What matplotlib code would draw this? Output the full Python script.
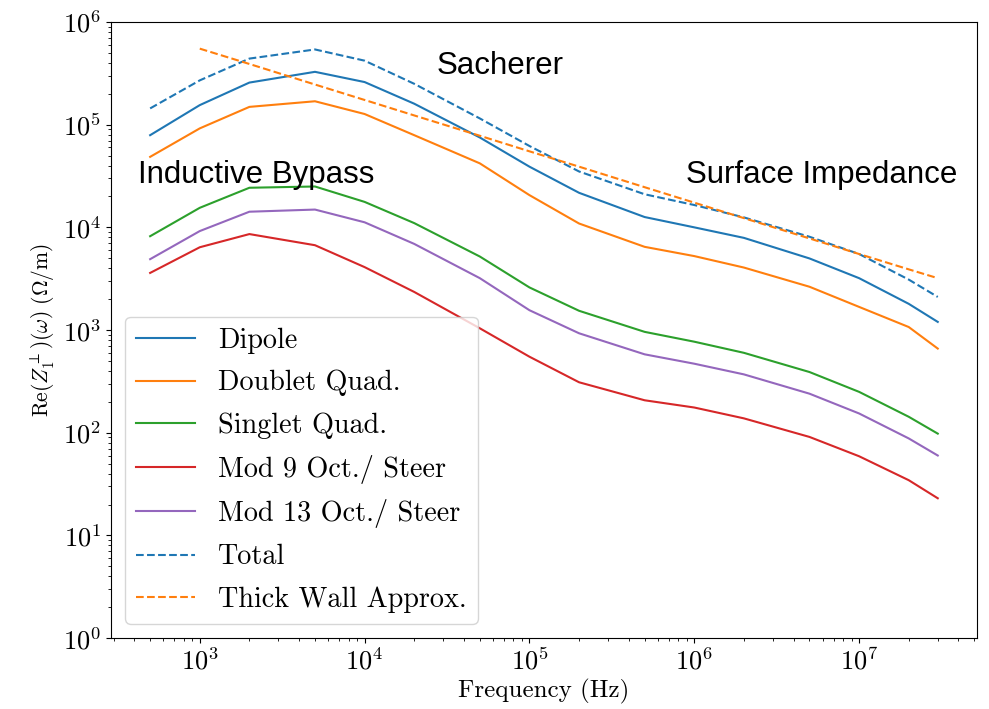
import numpy as np
import matplotlib
matplotlib.use("Agg")
import matplotlib.pyplot as plt

plt.rcParams['font.family'] = 'serif'
plt.rcParams['font.serif'] = ['cmr10']
plt.rcParams['mathtext.fontset'] = 'cm'
plt.rcParams['axes.formatter.use_mathtext'] = True

freq = [5e2, 1e3, 2e3, 5e3, 1e4, 2e4, 5e4, 1e5, 2e5, 5e5, 1e6, 2e6, 5e6, 1e7, 2e7, 3e7]

dipole = [7.9e4, 1.55e5, 2.57e5, 3.27e5, 2.6e5, 1.6e5, 7.5e4, 3.9e4, 2.17e4, 1.26e4,
          1.0e4, 7.9e3, 4.98e3, 3.2e3, 1.8e3, 1.2e3]
doublet_quad = [4.86e4, 9.2e4, 1.49e5, 1.69e5, 1.27e5, 7.9e4, 4.2e4, 2.06e4, 1.09e4, 6.46e3,
                5.25e3, 4.06e3, 2.64e3, 1.68e3, 1.07e3, 6.6e2]
singlet_quad = [8.2e3, 1.55e4, 2.43e4, 2.5e4, 1.77e4, 1.1e4, 5.2e3, 2.6e3, 1.54e3, 9.6e2,
                7.7e2, 6.0e2, 3.9e2, 2.5e2, 1.43e2, 98]
oct9 = [3.6e3, 6.4e3, 8.6e3, 6.7e3, 4.1e3, 2.35e3, 1.04e3, 5.5e2, 3.1e2, 2.07e2,
        1.76e2, 1.38e2, 91, 59, 34.5, 23]
oct13 = [4.9e3, 9.2e3, 1.42e4, 1.49e4, 1.12e4, 6.9e3, 3.2e3, 1.56e3, 9.3e2, 5.8e2,
         4.7e2, 3.7e2, 2.4e2, 1.54e2, 88, 60]
total = [1.44e5, 2.7e5, 4.4e5, 5.4e5, 4.2e5, 2.5e5, 1.15e5, 6.2e4, 3.5e4, 2.1e4,
         1.65e4, 1.25e4, 8.1e3, 5.5e3, 3.1e3, 2.1e3]

thick_freq = freq[1:]
thick_wall = [5.5e5, 3.9e5, 2.46e5, 1.74e5, 1.23e5, 7.8e4, 5.5e4, 3.9e4, 2.46e4,
              1.74e4, 1.23e4, 7.8e3, 5.5e3, 3.9e3, 3.2e3]

fig = plt.figure(figsize=(9.89, 7.09), dpi=100)
ax = fig.add_axes([0.112, 0.1, 0.876, 0.869])

ax.loglog(freq, dipole, color='C0', label='Dipole')
ax.loglog(freq, doublet_quad, color='C1', label='Doublet Quad.')
ax.loglog(freq, singlet_quad, color='C2', label='Singlet Quad.')
ax.loglog(freq, oct9, color='C3', label='Mod 9 Oct./ Steer')
ax.loglog(freq, oct13, color='C4', label='Mod 13 Oct./ Steer')
ax.loglog(freq, total, color='C0', ls='--', label='Total')
ax.loglog(thick_freq, thick_wall, color='C1', ls='--', label='Thick Wall Approx.')

ax.set_ylim(1, 1e6)
ax.tick_params(labelsize=19)
ax.set_xlabel('Frequency (Hz)', fontsize=18, labelpad=3)
ax.set_ylabel(r'$\mathrm{Re}(Z_1^{\perp})(\omega)\ (\Omega/\mathrm{m})$', fontsize=15.5)
ax.legend(loc='lower left', fontsize=20.3, labelspacing=0.56, handlelength=2.1)

fig.text(0.506, 0.895, 'Sacherer', family='Liberation Sans', fontsize=22.5,
         ha='center', va='baseline')
fig.text(0.259, 0.742, 'Inductive Bypass', family='Liberation Sans', fontsize=22.5,
         ha='center', va='baseline')
fig.text(0.831, 0.742, 'Surface Impedance', family='Liberation Sans', fontsize=22.5,
         ha='center', va='baseline')

fig.savefig('out.png', dpi=100)
